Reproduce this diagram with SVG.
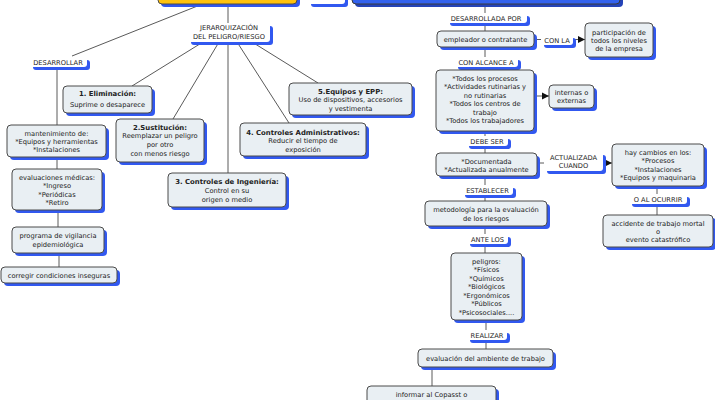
<svg xmlns="http://www.w3.org/2000/svg" width="715" height="400" viewBox="0 0 715 400">
<defs>
<style>
.sh{fill:#3158f0}
.bx{fill:#e9eff3;stroke:#4a4a4a;stroke-width:1}
.lb{fill:#ffffff}
.t{font-family:"DejaVu Sans","Liberation Sans",sans-serif;font-size:6.7px;fill:#222;text-anchor:middle}
.b{font-weight:bold;font-size:6.9px}
.c{stroke:#5a5a5a;stroke-width:1;fill:none}
</style>
<marker id="ar" markerWidth="8" markerHeight="8" refX="7" refY="4" orient="auto" markerUnits="userSpaceOnUse">
<path d="M0,0.5 L7,4 L0,7.5 Z" fill="#111"/>
</marker>
</defs>
<rect width="715" height="400" fill="#ffffff"/>

<g id="connectors">
<line class="c" x1="200" y1="5" x2="72" y2="56"/>
<line class="c" x1="57" y1="68" x2="57" y2="125"/>
<line class="c" x1="57" y1="157" x2="57" y2="169"/>
<line class="c" x1="58" y1="210" x2="58" y2="227"/>
<line class="c" x1="59" y1="253" x2="59" y2="267"/>
<line class="c" x1="228" y1="4" x2="228" y2="23"/>
<line class="c" x1="203" y1="42" x2="132" y2="86"/>
<line class="c" x1="219" y1="42" x2="173" y2="119"/>
<line class="c" x1="228" y1="42" x2="228" y2="173"/>
<line class="c" x1="237" y1="42" x2="289" y2="123"/>
<line class="c" x1="252" y1="42" x2="318" y2="83"/>
<line class="c" x1="485" y1="4" x2="485" y2="13"/>
<line class="c" x1="485" y1="23" x2="485" y2="31"/>
<line class="c" x1="534" y1="39.5" x2="541" y2="39.5"/>
<line class="c" x1="573" y1="39.5" x2="585" y2="39.5" marker-end="url(#ar)"/>
<line class="c" x1="485" y1="47" x2="485" y2="57"/>
<line class="c" x1="485" y1="67" x2="485" y2="70"/>
<line class="c" x1="534" y1="96" x2="549" y2="96" marker-end="url(#ar)"/>
<line class="c" x1="485" y1="131" x2="485" y2="136"/>
<line class="c" x1="485" y1="146" x2="485" y2="153"/>
<line class="c" x1="537" y1="163" x2="544" y2="163"/>
<line class="c" x1="603" y1="163" x2="612" y2="163" marker-end="url(#ar)"/>
<line class="c" x1="657" y1="186" x2="657" y2="194"/>
<line class="c" x1="657" y1="204" x2="657" y2="215"/>
<line class="c" x1="485" y1="176" x2="485" y2="185"/>
<line class="c" x1="485" y1="195" x2="485" y2="201"/>
<line class="c" x1="485" y1="226" x2="485" y2="234"/>
<line class="c" x1="485" y1="244" x2="485" y2="253"/>
<line class="c" x1="486" y1="320" x2="486" y2="330"/>
<line class="c" x1="486" y1="340" x2="486" y2="349"/>
<line class="c" x1="432" y1="367" x2="432" y2="386"/>
</g>

<g id="top-yellow">
<rect class="sh" x="161" y="-17" width="139" height="24" rx="4"/>
<rect x="158" y="-20" width="139" height="24" rx="4" fill="#ffc20e" stroke="#4a4a4a"/>
</g>
<g id="top-small">
<rect class="sh" x="311" y="-7" width="37" height="14" rx="3"/>
<rect class="lb" x="308" y="-10" width="37" height="14" rx="3"/>
</g>
<g id="top-blue">
<rect x="355" y="-17" width="268" height="24" rx="4" fill="#2443b8"/>
<rect x="352" y="-20" width="268" height="24" rx="4" fill="#3362ee" stroke="#3a3a3a"/>
</g>

<g id="l-jerarq">
<rect class="sh" x="191" y="26" width="82" height="19" rx="3"/>
<rect class="lb" x="188" y="23" width="82" height="19" rx="3"/>
<text class="t" x="229" y="29.5">JERARQUIZACIÓN</text>
<text class="t" x="229" y="38.5">DEL PELIGRO/RIESGO</text>
</g>
<g id="l-desarrollar">
<rect class="sh" x="33" y="60" width="57" height="10" rx="3"/>
<rect class="lb" x="30" y="57" width="57" height="10" rx="3"/>
<text class="t" x="58" y="64.5">DESARROLLAR</text>
</g>

<g id="n-elim">
<rect class="sh" x="66" y="89" width="89" height="27" rx="4"/>
<rect class="bx" x="63" y="86" width="89" height="27" rx="4"/>
<text class="t b" x="107.5" y="96">1. Eliminación:</text>
<text class="t" x="107.5" y="106.5">Suprime o desaparece</text>
</g>
<g id="n-sust">
<rect class="sh" x="119" y="122" width="88" height="43" rx="4"/>
<rect class="bx" x="116" y="119" width="88" height="43" rx="4"/>
<text class="t b" x="160" y="129.5">2.Sustitución:</text>
<text class="t" x="160" y="138">Reemplazar un peligro</text>
<text class="t" x="160" y="146.8">por otro</text>
<text class="t" x="160" y="155.5">con menos riesgo</text>
</g>
<g id="n-ing">
<rect class="sh" x="171" y="176" width="118" height="34" rx="4"/>
<rect class="bx" x="168" y="173" width="118" height="34" rx="4"/>
<text class="t b" x="227" y="183.5">3. Controles de Ingeniería:</text>
<text class="t" x="227" y="192.5">Control en su</text>
<text class="t" x="227" y="201.5">origen o medio</text>
</g>
<g id="n-adm">
<rect class="sh" x="243" y="126" width="126" height="33" rx="4"/>
<rect class="bx" x="240" y="123" width="126" height="33" rx="4"/>
<text class="t b" x="303" y="134.5">4. Controles Administrativos:</text>
<text class="t" x="303" y="143">Reducir el tiempo de</text>
<text class="t" x="303" y="151.5">exposición</text>
</g>
<g id="n-epp">
<rect class="sh" x="292" y="86" width="123" height="32" rx="4"/>
<rect class="bx" x="289" y="83" width="123" height="32" rx="4"/>
<text class="t b" x="350.5" y="93.5">5.Equipos y EPP:</text>
<text class="t" x="350.5" y="102">Uso de dispositivos, accesorios</text>
<text class="t" x="350.5" y="110.5">y vestimenta</text>
</g>

<g id="n-mant">
<rect class="sh" x="10" y="128" width="99" height="32" rx="4"/>
<rect class="bx" x="7" y="125" width="99" height="32" rx="4"/>
<text class="t" x="56.5" y="135.5">mantenimiento de:</text>
<text class="t" x="56.5" y="143.5">*Equipos y herramientas</text>
<text class="t" x="56.5" y="151.5">*Instalaciones</text>
</g>
<g id="n-evalmed">
<rect class="sh" x="15" y="172" width="90" height="41" rx="4"/>
<rect class="bx" x="12" y="169" width="90" height="41" rx="4"/>
<text class="t" x="57" y="179.5">evaluaciones médicas:</text>
<text class="t" x="57" y="188">*Ingreso</text>
<text class="t" x="57" y="196.5">*Periódicas</text>
<text class="t" x="57" y="205">*Retiro</text>
</g>
<g id="n-prog">
<rect class="sh" x="15" y="230" width="92" height="26" rx="4"/>
<rect class="bx" x="12" y="227" width="92" height="26" rx="4"/>
<text class="t" x="58" y="237.5">programa de vigilancia</text>
<text class="t" x="58" y="246.5">epidemiológica</text>
</g>
<g id="n-corr">
<rect class="sh" x="4" y="270" width="116" height="16" rx="4"/>
<rect class="bx" x="1" y="267" width="116" height="16" rx="4"/>
<text class="t" x="59" y="277.5">corregir condiciones inseguras</text>
</g>

<g id="l-desarrollada">
<rect class="sh" x="450" y="16" width="80" height="10" rx="3"/>
<rect class="lb" x="447" y="13" width="80" height="10" rx="3"/>
<text class="t" x="486" y="20.5">DESARROLLADA POR</text>
</g>
<g id="n-empl">
<rect class="sh" x="440" y="34" width="97" height="16" rx="4"/>
<rect class="bx" x="437" y="31" width="97" height="16" rx="4"/>
<text class="t" x="485.5" y="41.5">empleador o contratante</text>
</g>
<g id="l-conla">
<rect class="sh" x="544" y="38" width="32" height="10" rx="3"/>
<rect class="lb" x="541" y="35" width="32" height="10" rx="3"/>
<text class="t" x="557" y="42.5">CON LA</text>
</g>
<g id="n-part">
<rect class="sh" x="588" y="26" width="68" height="34" rx="4"/>
<rect class="bx" x="585" y="23" width="68" height="34" rx="4"/>
<text class="t" x="619" y="34.5">participación de</text>
<text class="t" x="619" y="42.5">todos los niveles</text>
<text class="t" x="619" y="50.5">de la empresa</text>
</g>
<g id="l-alcance">
<rect class="sh" x="458" y="60" width="63" height="10" rx="3"/>
<rect class="lb" x="455" y="57" width="63" height="10" rx="3"/>
<text class="t" x="486" y="64.5">CON ALCANCE A</text>
</g>
<g id="n-todos">
<rect class="sh" x="439" y="73" width="98" height="61" rx="4"/>
<rect class="bx" x="436" y="70" width="98" height="61" rx="4"/>
<text class="t" x="485" y="80.5">*Todos los procesos</text>
<text class="t" x="485" y="89">*Actividades rutinarias y</text>
<text class="t" x="485" y="97.5">no rutinarias</text>
<text class="t" x="485" y="106">*Todos los centros de</text>
<text class="t" x="485" y="114.5">trabajo</text>
<text class="t" x="485" y="123">*Todos los trabajadores</text>
</g>
<g id="n-int">
<rect class="sh" x="552" y="88" width="45" height="23" rx="4"/>
<rect class="bx" x="549" y="85" width="45" height="23" rx="4"/>
<text class="t" x="571.5" y="94.5">internas o</text>
<text class="t" x="571.5" y="103">externas</text>
</g>
<g id="l-debe">
<rect class="sh" x="469" y="139" width="42" height="10" rx="3"/>
<rect class="lb" x="466" y="136" width="42" height="10" rx="3"/>
<text class="t" x="487" y="143.5">DEBE SER</text>
</g>
<g id="n-doc">
<rect class="sh" x="439" y="156" width="101" height="23" rx="4"/>
<rect class="bx" x="436" y="153" width="101" height="23" rx="4"/>
<text class="t" x="486.5" y="163.5">*Documentada</text>
<text class="t" x="486.5" y="171.5">*Actualizada anualmente</text>
</g>
<g id="l-actual">
<rect class="sh" x="547" y="155" width="59" height="19" rx="3"/>
<rect class="lb" x="544" y="152" width="59" height="19" rx="3"/>
<text class="t" x="573.5" y="159.5">ACTUALIZADA</text>
<text class="t" x="573.5" y="167.5">CUANDO</text>
</g>
<g id="n-camb">
<rect class="sh" x="615" y="147" width="92" height="42" rx="4"/>
<rect class="bx" x="612" y="144" width="92" height="42" rx="4"/>
<text class="t" x="658" y="154.5">hay cambios en los:</text>
<text class="t" x="658" y="163">*Procesos</text>
<text class="t" x="658" y="171.5">*Instalaciones</text>
<text class="t" x="658" y="180">*Equipos y maquinaria</text>
</g>
<g id="l-ocurrir">
<rect class="sh" x="632" y="197" width="58" height="10" rx="3"/>
<rect class="lb" x="629" y="194" width="58" height="10" rx="3"/>
<text class="t" x="658" y="201.5">O AL OCURRIR</text>
</g>
<g id="n-acc">
<rect class="sh" x="606" y="218" width="110" height="32" rx="4"/>
<rect class="bx" x="603" y="215" width="110" height="32" rx="4"/>
<text class="t" x="658" y="225.5">accidente de trabajo mortal</text>
<text class="t" x="658" y="233.5">o</text>
<text class="t" x="658" y="241.5">evento catastrófico</text>
</g>
<g id="l-estab">
<rect class="sh" x="465" y="188" width="51" height="10" rx="3"/>
<rect class="lb" x="462" y="185" width="51" height="10" rx="3"/>
<text class="t" x="487.5" y="192.5">ESTABLECER</text>
</g>
<g id="n-metod">
<rect class="sh" x="428" y="204" width="122" height="25" rx="4"/>
<rect class="bx" x="425" y="201" width="122" height="25" rx="4"/>
<text class="t" x="486" y="211.5">metodología para la evaluación</text>
<text class="t" x="486" y="220.5">de los riesgos</text>
</g>
<g id="l-ante">
<rect class="sh" x="470" y="237" width="41" height="10" rx="3"/>
<rect class="lb" x="467" y="234" width="41" height="10" rx="3"/>
<text class="t" x="487.5" y="241.5">ANTE LOS</text>
</g>
<g id="n-pelig">
<rect class="sh" x="454" y="256" width="71" height="67" rx="4"/>
<rect class="bx" x="451" y="253" width="71" height="67" rx="4"/>
<text class="t" x="486.5" y="263.5">peligros:</text>
<text class="t" x="486.5" y="272">*Físicos</text>
<text class="t" x="486.5" y="280.5">*Químicos</text>
<text class="t" x="486.5" y="289">*Biológicos</text>
<text class="t" x="486.5" y="297.5">*Ergonómicos</text>
<text class="t" x="486.5" y="306">*Públicos</text>
<text class="t" x="486.5" y="314.5">*Psicosociales....</text>
</g>
<g id="l-realizar">
<rect class="sh" x="470" y="333" width="40" height="10" rx="3"/>
<rect class="lb" x="467" y="330" width="40" height="10" rx="3"/>
<text class="t" x="487" y="337.5">REALIZAR</text>
</g>
<g id="n-amb">
<rect class="sh" x="421" y="352" width="135" height="18" rx="4"/>
<rect class="bx" x="418" y="349" width="135" height="18" rx="4"/>
<text class="t" x="485.5" y="360.5">evaluación del ambiente de trabajo</text>
</g>
<g id="n-inf">
<rect class="sh" x="370" y="389" width="129" height="30" rx="4"/>
<rect class="bx" x="367" y="386" width="129" height="30" rx="4"/>
<text class="t" x="431.5" y="396.5">informar al Copasst o</text>
</g>
</svg>
